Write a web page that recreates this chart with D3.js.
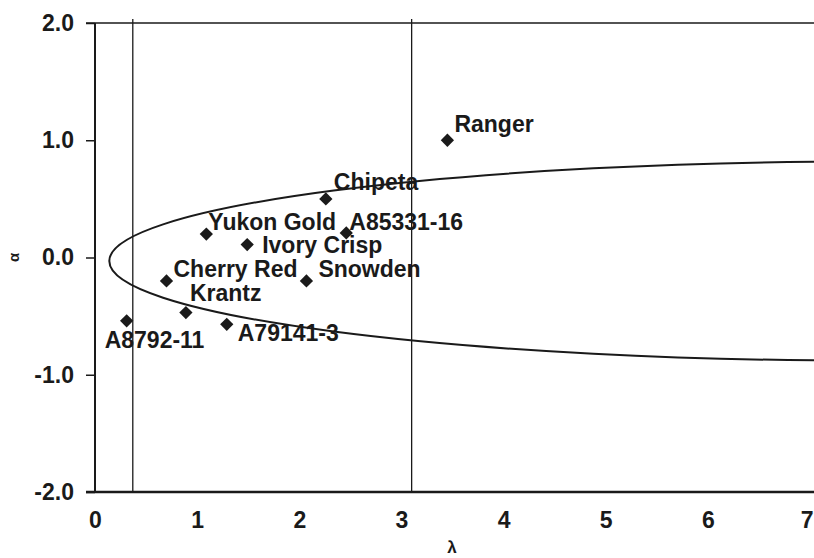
<!DOCTYPE html>
<html>
<head>
<meta charset="utf-8">
<script src="https://cdn.jsdelivr.net/npm/d3@7"></script>
<style>
  body { margin: 0; background: #fff; }
  svg text { font-family: "Liberation Sans", Arial, sans-serif; font-weight: bold; fill: #1a1a1a; }
</style>
</head>
<body>
<svg class="chart"></svg>
<script>
// cultivar estimates (lambda, alpha)
const cultivars = ["Ranger", "Chipeta", "A85331-16", "Yukon Gold", "Ivory Crisp",
                   "Cherry Red", "Snowden", "Krantz", "A8792-11", "A79141-3"];
const lambdaVals = [3.45, 2.26, 2.46, 1.09, 1.49, 0.70, 2.07, 0.89, 0.31, 1.29];
const alphaVals  = [1.00, 0.50, 0.21, 0.20, 0.11, -0.20, -0.20, -0.47, -0.54, -0.57];
const xTicks = [0, 1, 2, 3, 4, 5, 6, 7];
const yTicks = [-2, -1, 0, 1, 2];
const refLambdas = [0.37, 3.10];
// confidence ellipse: centre and radii in data units
const ellipseCentre = [7.64, -0.03];
const ellipseRadii = [7.5, 0.85];

// label offsets in px, by cultivar
const labelOffset = {
  "Ranger": [7, -8], "Chipeta": [8, -9], "A85331-16": [3, -3], "Yukon Gold": [2, -4],
  "Ivory Crisp": [15, 8], "Cherry Red": [7, -4], "Snowden": [12, -4], "Krantz": [4, -12],
  "A8792-11": [-22, 27], "A79141-3": [11, 17]
};

const width = 814, height = 558;
const m = {left: 95, right: 810, top: 23, bottom: 492};
const fs = "23px";

const svg = d3.select(".chart").attr("width", width).attr("height", height);

let x = d3.scaleLinear().domain([0, 7]).range([m.left, m.right]);
let y = d3.scaleLinear().domain([-2, 2]).range([m.bottom, m.top]);

svg.append("defs").append("clipPath").attr("id", "plot")
  .append("rect").attr("x", m.left).attr("y", m.top).attr("width", width - m.left).attr("height", m.bottom - m.top);

// axes
let yAxis = d3.axisLeft(y).tickValues(yTicks).tickSize(9).tickSizeOuter(0).tickPadding(12)
  .tickFormat(d => d.toFixed(1));
let yg = svg.append("g").attr("transform", "translate(" + m.left + ",0)").call(yAxis);
yg.select(".domain").remove();
yg.selectAll("line").attr("stroke", "#1a1a1a").attr("stroke-width", 1.5);
yg.selectAll("text").style("font-size", fs);

let xAxis = d3.axisBottom(x).tickValues(xTicks).tickSize(0).tickPadding(20).tickFormat(d3.format("d"));
let xg = svg.append("g").attr("transform", "translate(0," + m.bottom + ")").call(xAxis);
xg.select(".domain").remove();
xg.selectAll("text").style("font-size", fs);
// last label sits at the window edge; keep it inside
xg.selectAll("text").filter(d => d === 7).attr("text-anchor", "end").attr("x", 3);

// frame
const frame = svg.append("g").attr("stroke", "#1a1a1a").attr("fill", "none");
frame.append("line").attr("x1", m.left - 9).attr("x2", width).attr("y1", m.top).attr("y2", m.top).attr("stroke-width", 1.5);
frame.append("line").attr("x1", m.left - 9).attr("x2", width).attr("y1", m.bottom).attr("y2", m.bottom).attr("stroke-width", 2.5);
frame.append("line").attr("x1", m.left).attr("x2", m.left).attr("y1", m.top).attr("y2", m.bottom).attr("stroke-width", 2);

// reference lines
svg.append("g").selectAll("line").data(refLambdas).enter().append("line")
  .attr("x1", d => x(d)).attr("x2", d => x(d))
  .attr("y1", m.top - 4).attr("y2", m.bottom)
  .attr("stroke", "#1a1a1a").attr("stroke-width", 1.3);

// ellipse
svg.append("ellipse")
  .attr("clip-path", "url(#plot)")
  .attr("cx", x(ellipseCentre[0])).attr("cy", y(ellipseCentre[1]))
  .attr("rx", x(ellipseRadii[0]) - x(0)).attr("ry", y(0) - y(ellipseRadii[1]))
  .attr("fill", "none").attr("stroke", "#1a1a1a").attr("stroke-width", 2);

// points
const pts = cultivars.map((c, i) => ({name: c, l: lambdaVals[i], a: alphaVals[i]}));
const sym = d3.symbol().type(d3.symbolSquare).size(88);

svg.append("g").selectAll("path").data(pts).enter().append("path")
  .attr("d", sym)
  .attr("transform", d => "translate(" + x(d.l) + "," + y(d.a) + ") rotate(45)")
  .attr("fill", "#1a1a1a");

svg.append("g").selectAll("text").data(pts).enter().append("text")
  .attr("x", d => x(d.l) + labelOffset[d.name][0])
  .attr("y", d => y(d.a) + labelOffset[d.name][1])
  .style("font-size", fs)
  .text(d => d.name);

// axis titles
svg.append("text")
  .attr("transform", "translate(19," + y(0) + ") rotate(-90)")
  .attr("text-anchor", "middle")
  .style("font-size", "15px")
  .text("α");
svg.append("text")
  .attr("x", 452).attr("y", 553)
  .attr("text-anchor", "middle")
  .style("font-size", "17px")
  .text("λ");
</script>
</body>
</html>
